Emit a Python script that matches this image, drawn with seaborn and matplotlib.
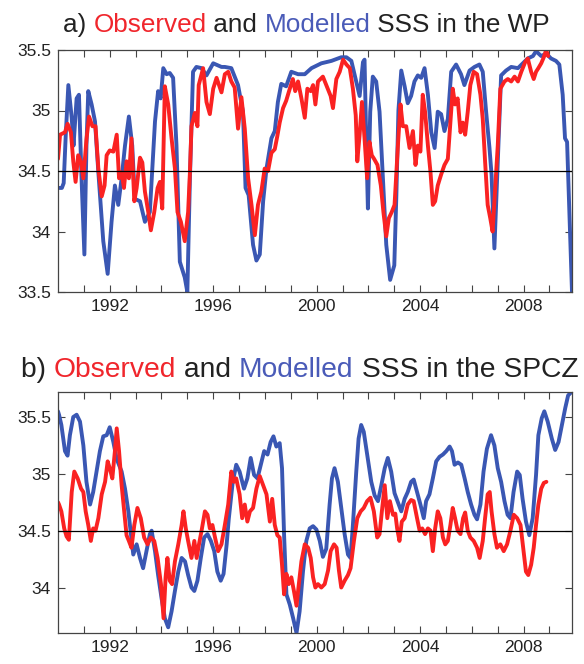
import matplotlib
matplotlib.use("Agg")
import matplotlib.pyplot as plt
import seaborn as sns
import pandas as pd

# ---------------- data (decimal year, salinity) ----------------
wp_mod_t = [1990.0, 1990.15, 1990.22, 1990.3, 1990.4, 1990.53, 1990.6, 1990.72, 1990.81, 1990.91, 1991.02, 1991.1,
            1991.17, 1991.3, 1991.43, 1991.56, 1991.75, 1991.92, 1992.07, 1992.2, 1992.33, 1992.46, 1992.59, 1992.74,
            1992.87, 1992.97, 1993.17, 1993.36, 1993.55, 1993.75, 1993.87, 1993.97, 1994.07, 1994.2, 1994.32, 1994.45,
            1994.58, 1994.71, 1994.9, 1995.0, 1995.1, 1995.22, 1995.35, 1995.55, 1995.74, 1996.0, 1996.32, 1996.45,
            1996.7, 1996.96, 1997.15, 1997.25, 1997.37, 1997.54, 1997.67, 1997.8, 1997.93, 1998.06, 1998.25, 1998.38,
            1998.5, 1998.63, 1998.82, 1999.02, 1999.28, 1999.54, 1999.8, 2000.18, 2000.57, 2000.95, 2001.15, 2001.34,
            2001.53, 2001.66, 2001.79, 2001.85, 2001.92, 2001.98, 2002.07, 2002.17, 2002.3, 2002.43, 2002.56, 2002.69,
            2002.84, 2003.0, 2003.08, 2003.16, 2003.27, 2003.4, 2003.52, 2003.65, 2003.78, 2003.91, 2004.04, 2004.17,
            2004.3, 2004.43, 2004.56, 2004.68, 2004.81, 2004.94, 2005.07, 2005.2, 2005.39, 2005.58, 2005.71, 2005.91,
            2006.1, 2006.29, 2006.42, 2006.55, 2006.68, 2006.76, 2006.87, 2007.0, 2007.13, 2007.32, 2007.52, 2007.78,
            2007.97, 2008.16, 2008.36, 2008.48, 2008.68, 2008.87, 2009.06, 2009.25, 2009.38, 2009.51, 2009.6, 2009.68,
            2009.77, 2009.87]
wp_mod_v = [34.36, 34.36, 34.4, 34.8, 35.21, 34.94, 34.71, 35.10, 35.13, 34.44, 33.81, 34.71,
            35.16, 35.05, 34.91, 34.49, 33.92, 33.65, 34.08, 34.38, 34.22, 34.44, 34.71, 34.95,
            34.71, 34.27, 34.25, 34.08, 34.16, 34.91, 35.16, 35.1, 35.35, 35.3, 35.31, 35.27,
            34.71, 33.75, 33.62, 33.5, 34.44, 35.32, 35.36, 35.35, 35.29, 35.39, 35.36, 35.36,
            35.35, 35.21, 34.99, 34.36, 34.3, 33.89, 33.76, 33.81, 34.25, 34.52, 34.77, 34.83,
            35.07, 35.22, 35.2, 35.32, 35.3, 35.3, 35.35, 35.39, 35.41, 35.44, 35.44, 35.41,
            35.24, 35.12, 35.40, 35.42, 34.71, 34.19, 34.99, 35.28, 35.24, 34.99, 34.44, 33.89,
            33.60, 33.72, 34.3, 35.0, 35.33, 35.2, 35.06, 35.12, 35.24, 35.29, 35.27, 35.35,
            35.13, 34.82, 34.69, 34.99, 34.97, 34.83, 34.93, 35.32, 35.38, 35.3, 35.21, 35.33,
            35.36, 35.38, 35.32, 34.99, 34.69, 34.47, 33.86, 34.58, 35.29, 35.33, 35.36, 35.35,
            35.39, 35.43, 35.45, 35.49, 35.45, 35.47, 35.43, 35.41, 35.38, 35.13, 34.77, 34.74,
            34.16, 33.5]

wp_obs_t = [1990.0, 1990.08, 1990.27, 1990.37, 1990.5, 1990.59, 1990.68, 1990.78, 1990.88, 1990.98, 1991.1, 1991.2,
            1991.33, 1991.45, 1991.56, 1991.69, 1991.8, 1991.88, 1992.0, 1992.14, 1992.27, 1992.36, 1992.46, 1992.55,
            1992.65, 1992.74, 1992.84, 1992.95, 1993.04, 1993.17, 1993.26, 1993.36, 1993.49, 1993.59, 1993.72, 1993.85,
            1993.94, 1994.03, 1994.13, 1994.26, 1994.39, 1994.52, 1994.62, 1994.75, 1994.9, 1995.03, 1995.1, 1995.16,
            1995.29, 1995.39, 1995.44, 1995.61, 1995.74, 1995.87, 1996.0, 1996.13, 1996.32, 1996.45, 1996.58, 1996.7,
            1996.83, 1996.96, 1997.09, 1997.22, 1997.35, 1997.48, 1997.61, 1997.73, 1997.86, 1997.99, 1998.12, 1998.25,
            1998.38, 1998.48, 1998.57, 1998.7, 1998.82, 1998.96, 1999.08, 1999.17, 1999.28, 1999.41, 1999.54, 1999.64,
            1999.77, 1999.86, 1999.95, 2000.05, 2000.24, 2000.37, 2000.54, 2000.63, 2000.76, 2000.89, 2001.02, 2001.15,
            2001.28, 2001.4, 2001.51, 2001.57, 2001.66, 2001.75, 2001.85, 2001.95, 2002.04, 2002.13, 2002.22, 2002.35,
            2002.48, 2002.58, 2002.69, 2002.79, 2002.9, 2003.01, 2003.14, 2003.24, 2003.33, 2003.46, 2003.59, 2003.72,
            2003.82, 2003.91, 2004.01, 2004.1, 2004.19, 2004.3, 2004.4, 2004.49, 2004.58, 2004.68, 2004.81, 2004.94,
            2005.07, 2005.2, 2005.26, 2005.35, 2005.45, 2005.56, 2005.65, 2005.74, 2005.84, 2005.94, 2006.07, 2006.2,
            2006.33, 2006.42, 2006.51, 2006.61, 2006.71, 2006.8, 2006.9, 2007.0, 2007.1, 2007.26, 2007.39, 2007.52,
            2007.65, 2007.78, 2007.91, 2008.06, 2008.16, 2008.29, 2008.39, 2008.48, 2008.57, 2008.68, 2008.78, 2008.87,
            2008.95]
wp_obs_v = [34.60, 34.80, 34.82, 34.89, 34.82, 34.58, 34.41, 34.63, 34.58, 34.44, 34.76, 34.95,
            34.87, 34.87, 34.52, 34.29, 34.38, 34.63, 34.67, 34.66, 34.80, 34.44, 34.49, 34.36,
            34.58, 34.44, 34.77, 34.25, 34.36, 34.61, 34.57, 34.33, 34.16, 34.01, 34.16, 34.36,
            34.41, 34.19, 35.2, 35.05, 34.77, 34.52, 34.16, 34.08, 33.92, 34.16, 34.49, 34.87,
            34.98, 34.87, 35.21, 35.35, 35.07, 34.97, 35.18, 35.27, 35.15, 35.30, 35.32, 35.24,
            35.19, 34.85, 35.11, 34.85, 34.44, 34.22, 33.97, 34.22, 34.33, 34.52, 34.5, 34.65,
            34.68, 34.79, 34.9, 35.02, 35.08, 35.18, 35.26, 35.16, 35.24, 35.1, 34.94, 35.18,
            35.16, 35.21, 35.05, 35.24, 35.28, 35.21, 35.12, 35.02, 35.26, 35.32, 35.42, 35.38,
            35.35, 35.18, 34.96, 34.58, 34.8, 35.07, 34.77, 34.44, 34.74, 34.63, 34.6, 34.55,
            34.38, 34.16, 33.96, 34.11, 34.16, 34.22, 34.71, 35.05, 34.87, 34.87, 34.69, 34.83,
            34.55, 34.71, 34.66, 35.13, 34.99, 34.71, 34.49, 34.22, 34.25, 34.38, 34.47, 34.55,
            34.6, 34.99, 35.18, 35.05, 35.1, 34.82, 34.9, 34.8, 34.99, 35.21, 35.32, 35.3,
            35.13, 34.93, 34.58, 34.22, 34.11, 34.0, 34.35, 34.71, 35.18, 35.24, 35.26, 35.24,
            35.28, 35.24, 35.32, 35.40, 35.43, 35.32, 35.26, 35.32, 35.35, 35.39, 35.44, 35.5,
            35.45]

spcz_mod_t = [1990.0, 1990.04, 1990.13, 1990.27, 1990.37, 1990.46, 1990.59, 1990.72, 1990.85, 1990.98, 1991.1, 1991.24,
              1991.36, 1991.49, 1991.62, 1991.75, 1991.88, 1992.0, 1992.14, 1992.27, 1992.46, 1992.59, 1992.72, 1992.82,
              1992.91, 1993.04, 1993.17, 1993.29, 1993.42, 1993.55, 1993.62, 1993.75, 1993.87, 1994.0, 1994.13, 1994.26,
              1994.39, 1994.52, 1994.65, 1994.78, 1994.91, 1995.03, 1995.16, 1995.27, 1995.39, 1995.52, 1995.65, 1995.78,
              1995.91, 1996.04, 1996.16, 1996.29, 1996.4, 1996.52, 1996.6, 1996.75, 1996.89, 1997.02, 1997.19, 1997.32,
              1997.45, 1997.58, 1997.71, 1997.84, 1997.97, 1998.1, 1998.22, 1998.33, 1998.44, 1998.57, 1998.66, 1998.74,
              1998.83, 1998.96, 1999.09, 1999.22, 1999.34, 1999.47, 1999.6, 1999.73, 1999.86, 1999.99, 2000.12, 2000.24,
              2000.37, 2000.5, 2000.59, 2000.69, 2000.82, 2000.95, 2001.08, 2001.21, 2001.31, 2001.4, 2001.53, 2001.62,
              2001.72, 2001.82, 2001.95, 2002.11, 2002.24, 2002.37, 2002.5, 2002.63, 2002.75, 2002.88, 2003.01, 2003.14,
              2003.27, 2003.4, 2003.52, 2003.65, 2003.75, 2003.88, 2004.01, 2004.14, 2004.23, 2004.36, 2004.49, 2004.62,
              2004.75, 2004.88, 2005.01, 2005.14, 2005.23, 2005.33, 2005.46, 2005.59, 2005.72, 2005.84, 2005.97, 2006.1,
              2006.2, 2006.33, 2006.45, 2006.58, 2006.74, 2006.87, 2007.0, 2007.13, 2007.26, 2007.38, 2007.49, 2007.61,
              2007.75, 2007.85, 2007.96, 2008.09, 2008.22, 2008.35, 2008.48, 2008.57, 2008.7, 2008.8, 2008.93, 2009.09,
              2009.22, 2009.35, 2009.48, 2009.61, 2009.72, 2009.85]
spcz_mod_v = [35.55, 35.52, 35.43, 35.2, 35.16, 35.34, 35.5, 35.52, 35.46, 35.25, 34.93, 34.73,
              34.84, 35.02, 35.2, 35.33, 35.34, 35.41, 35.28, 35.13, 35.02, 34.87, 34.67, 34.47,
              34.29, 34.38, 34.26, 34.17, 34.32, 34.47, 34.5, 34.32, 34.11, 33.91, 33.73, 33.65,
              33.79, 33.97, 34.14, 34.26, 34.23, 34.11, 34.0, 33.97, 34.06, 34.26, 34.44, 34.47,
              34.41, 34.32, 34.14, 34.06, 34.12, 34.38, 34.6, 34.92, 35.08, 35.02, 34.87, 34.96,
              35.14, 34.99, 34.96, 35.08, 35.2, 35.17, 35.28, 35.33, 35.24, 35.27, 35.05, 34.46,
              33.94, 33.85, 33.73, 33.6, 33.79, 34.14, 34.41, 34.52, 34.54, 34.51, 34.41, 34.27,
              34.34, 34.73, 34.96, 35.05, 34.93, 34.7, 34.47, 34.29, 34.26, 34.55, 35.02, 35.31,
              35.43, 35.37, 35.17, 34.93, 34.81, 34.76, 34.9, 35.05, 35.14, 35.02, 34.83, 34.75,
              34.67, 34.78, 34.84, 34.93, 34.95, 34.84, 34.73, 34.61, 34.76, 34.82, 34.96, 35.11,
              35.15, 35.17, 35.2, 35.24, 35.2, 35.08, 35.1, 35.08, 34.96, 34.84, 34.73, 34.64,
              34.6, 34.73, 35.02, 35.22, 35.34, 35.25, 35.05, 34.93, 34.76, 34.64, 34.61, 34.84,
              35.02, 34.99, 34.78, 34.58, 34.46, 34.61, 34.99, 35.34, 35.49, 35.55, 35.46, 35.31,
              35.21, 35.28, 35.43, 35.58, 35.69, 35.72]

spcz_obs_t = [1990.0, 1990.04, 1990.13, 1990.24, 1990.33, 1990.42, 1990.53, 1990.63, 1990.76, 1990.89, 1990.98, 1991.07,
              1991.17, 1991.27, 1991.36, 1991.45, 1991.56, 1991.69, 1991.82, 1991.92, 1992.0, 1992.1, 1992.2, 1992.27,
              1992.36, 1992.46, 1992.56, 1992.65, 1992.74, 1992.84, 1992.95, 1993.07, 1993.2, 1993.33, 1993.46, 1993.59,
              1993.72, 1993.85, 1993.98, 1994.08, 1994.16, 1994.23, 1994.32, 1994.41, 1994.52, 1994.65, 1994.78, 1994.85,
              1994.94, 1995.03, 1995.16, 1995.27, 1995.36, 1995.45, 1995.55, 1995.68, 1995.78, 1995.87, 1995.97, 1996.07,
              1996.19, 1996.32, 1996.45, 1996.58, 1996.7, 1996.8, 1996.89, 1997.02, 1997.12, 1997.22, 1997.32, 1997.42,
              1997.54, 1997.67, 1997.8, 1997.93, 1998.06, 1998.19, 1998.28, 1998.38, 1998.48, 1998.57, 1998.66, 1998.74,
              1998.83, 1998.92, 1999.02, 1999.12, 1999.22, 1999.31, 1999.41, 1999.54, 1999.67, 1999.77, 1999.86, 1999.95,
              2000.05, 2000.18, 2000.31, 2000.44, 2000.54, 2000.67, 2000.77, 2000.86, 2000.95, 2001.08, 2001.21, 2001.31,
              2001.44, 2001.57, 2001.7, 2001.82, 2001.95, 2002.08, 2002.21, 2002.34, 2002.43, 2002.52, 2002.63, 2002.73,
              2002.83, 2002.95, 2003.04, 2003.11, 2003.2, 2003.29, 2003.4, 2003.52, 2003.65, 2003.75, 2003.88, 2003.98,
              2004.08, 2004.19, 2004.3, 2004.4, 2004.49, 2004.58, 2004.68, 2004.78, 2004.88, 2004.97, 2005.07, 2005.17,
              2005.26, 2005.35, 2005.45, 2005.56, 2005.66, 2005.74, 2005.84, 2005.94, 2006.07, 2006.2, 2006.3, 2006.42,
              2006.51, 2006.61, 2006.69, 2006.76, 2006.87, 2006.97, 2007.1, 2007.23, 2007.36, 2007.49, 2007.62, 2007.75,
              2007.88, 2008.0, 2008.09, 2008.18, 2008.29, 2008.39, 2008.48, 2008.57, 2008.68, 2008.78, 2008.88]
spcz_obs_v = [34.75, 34.73, 34.67, 34.52, 34.45, 34.42, 34.84, 35.02, 34.96, 34.87, 34.84, 34.67,
              34.55, 34.41, 34.52, 34.5, 34.61, 34.82, 34.93, 35.11, 35.05, 34.96, 35.2, 35.4,
              35.2, 34.9, 34.67, 34.46, 34.41, 34.35, 34.55, 34.7, 34.61, 34.44, 34.38, 34.44,
              34.41, 34.26, 34.03, 33.73, 34.09, 34.26, 34.06, 34.03, 34.23, 34.38, 34.55, 34.67,
              34.52, 34.41, 34.26, 34.41, 34.26, 34.38, 34.5, 34.67, 34.64, 34.52, 34.55, 34.44,
              34.32, 34.38, 34.55, 34.73, 35.02, 34.93, 34.96, 34.82, 34.61, 34.73, 34.58, 34.67,
              34.7, 34.87, 34.98, 34.9, 34.82, 34.58, 34.78, 34.55, 34.46, 34.44, 34.2, 33.94,
              34.12, 34.03, 34.09, 33.97, 33.84, 34.03, 34.23, 34.38, 34.35, 34.26, 34.09, 34.0,
              34.03, 34.0, 34.03, 34.15, 34.32, 34.38, 34.35, 34.15, 34.0, 34.06, 34.11, 34.17,
              34.41, 34.61, 34.67, 34.7, 34.76, 34.79, 34.67, 34.44, 34.47, 34.67, 34.9, 34.61,
              34.76, 34.64, 34.65, 34.52, 34.41, 34.58, 34.61, 34.73, 34.77, 34.76, 34.61, 34.5,
              34.52, 34.47, 34.52, 34.5, 34.32, 34.52, 34.67, 34.61, 34.44, 34.38, 34.41, 34.55,
              34.7, 34.61, 34.5, 34.47, 34.61, 34.66, 34.5, 34.44, 34.41, 34.35, 34.26, 34.41,
              34.61, 34.82, 34.84, 34.67, 34.47, 34.35, 34.38, 34.32, 34.38, 34.5, 34.64, 34.61,
              34.55, 34.32, 34.14, 34.11, 34.2, 34.35, 34.55, 34.73, 34.87, 34.92, 34.93]

year_ticks = [1992, 1996, 2000, 2004, 2008]
panel_titles = [
    [("a) ", "#222222"), ("Observed", "#f0262c"), (" and ", "#222222"),
     ("Modelled", "#4a5bb8"), (" SSS in the WP", "#222222")],
    [("b) ", "#222222"), ("Observed", "#f0262c"), (" and ", "#222222"),
     ("Modelled", "#4a5bb8"), (" SSS in the SPCZ", "#222222")],
]

RED = "#fa2222"
BLUE = "#3a57b3"

sns.set_style("white")
plt.rcParams["font.family"] = ["Liberation Sans", "DejaVu Sans"]

fig = plt.figure(figsize=(5.84, 6.64), dpi=100)
ax_a = fig.add_axes([58 / 584, 1 - 292 / 664, (572 - 58) / 584, (292 - 50) / 664])
ax_b = fig.add_axes([58 / 584, 1 - 633 / 664, (572 - 58) / 584, (633 - 392) / 664])

def draw(ax, mt, mv, ot, ov, ylim, yticks, ylabels):
    dm = pd.DataFrame({"t": mt, "v": mv})
    do = pd.DataFrame({"t": ot, "v": ov})
    sns.lineplot(data=dm, x="t", y="v", ax=ax, color=BLUE, linewidth=2.8,
                 estimator=None, sort=False)
    sns.lineplot(data=do, x="t", y="v", ax=ax, color=RED, linewidth=2.8,
                 estimator=None, sort=False)
    ax.axhline(34.5, color="black", linewidth=0.9, zorder=5)
    ax.set_xlim(1990, 2009.87)
    ax.set_ylim(*ylim)
    ax.set_xticks(year_ticks)
    ax.set_xticklabels([str(y) for y in year_ticks])
    ax.set_xticks(list(range(1991, 2010)), minor=True)
    ax.set_yticks(yticks)
    ax.set_yticklabels(ylabels)
    ax.set_xlabel("")
    ax.set_ylabel("")
    ax.tick_params(axis="both", which="both", direction="in", top=True, right=True,
                   bottom=True, left=True, color="#444444", labelsize=12.5,
                   labelcolor="#222222")
    ax.tick_params(which="major", length=5, width=0.8, pad=5)
    ax.tick_params(which="minor", length=5, width=0.8)
    for s in ax.spines.values():
        s.set_color("#444444")
        s.set_linewidth(0.9)
    ax.grid(False)

draw(ax_a, wp_mod_t, wp_mod_v, wp_obs_t, wp_obs_v, (33.5, 35.5),
     [33.5, 34, 34.5, 35, 35.5], ["33.5", "34", "34.5", "35", "35.5"])
draw(ax_b, spcz_mod_t, spcz_mod_v, spcz_obs_t, spcz_obs_v, (33.6, 35.72),
     [34, 34.5, 35, 35.5], ["34", "34.5", "35", "35.5"])

def colour_title(parts, ybase_px, xcenter_px, fontsize):
    renderer = fig.canvas.get_renderer()
    texts = []
    for s, c in parts:
        t = fig.text(0, 1 - ybase_px / 664, s, color=c, fontsize=fontsize,
                     ha="left", va="baseline")
        texts.append(t)
    widths = [t.get_window_extent(renderer).width for t in texts]
    total = sum(widths)
    x = xcenter_px - total / 2
    for t, w in zip(texts, widths):
        t.set_x(x / 584)
        x += w

colour_title(panel_titles[0], 32, 306.5, 18.8)
colour_title(panel_titles[1], 377, 299.5, 20.3)

fig.savefig("out.png", dpi=100)
